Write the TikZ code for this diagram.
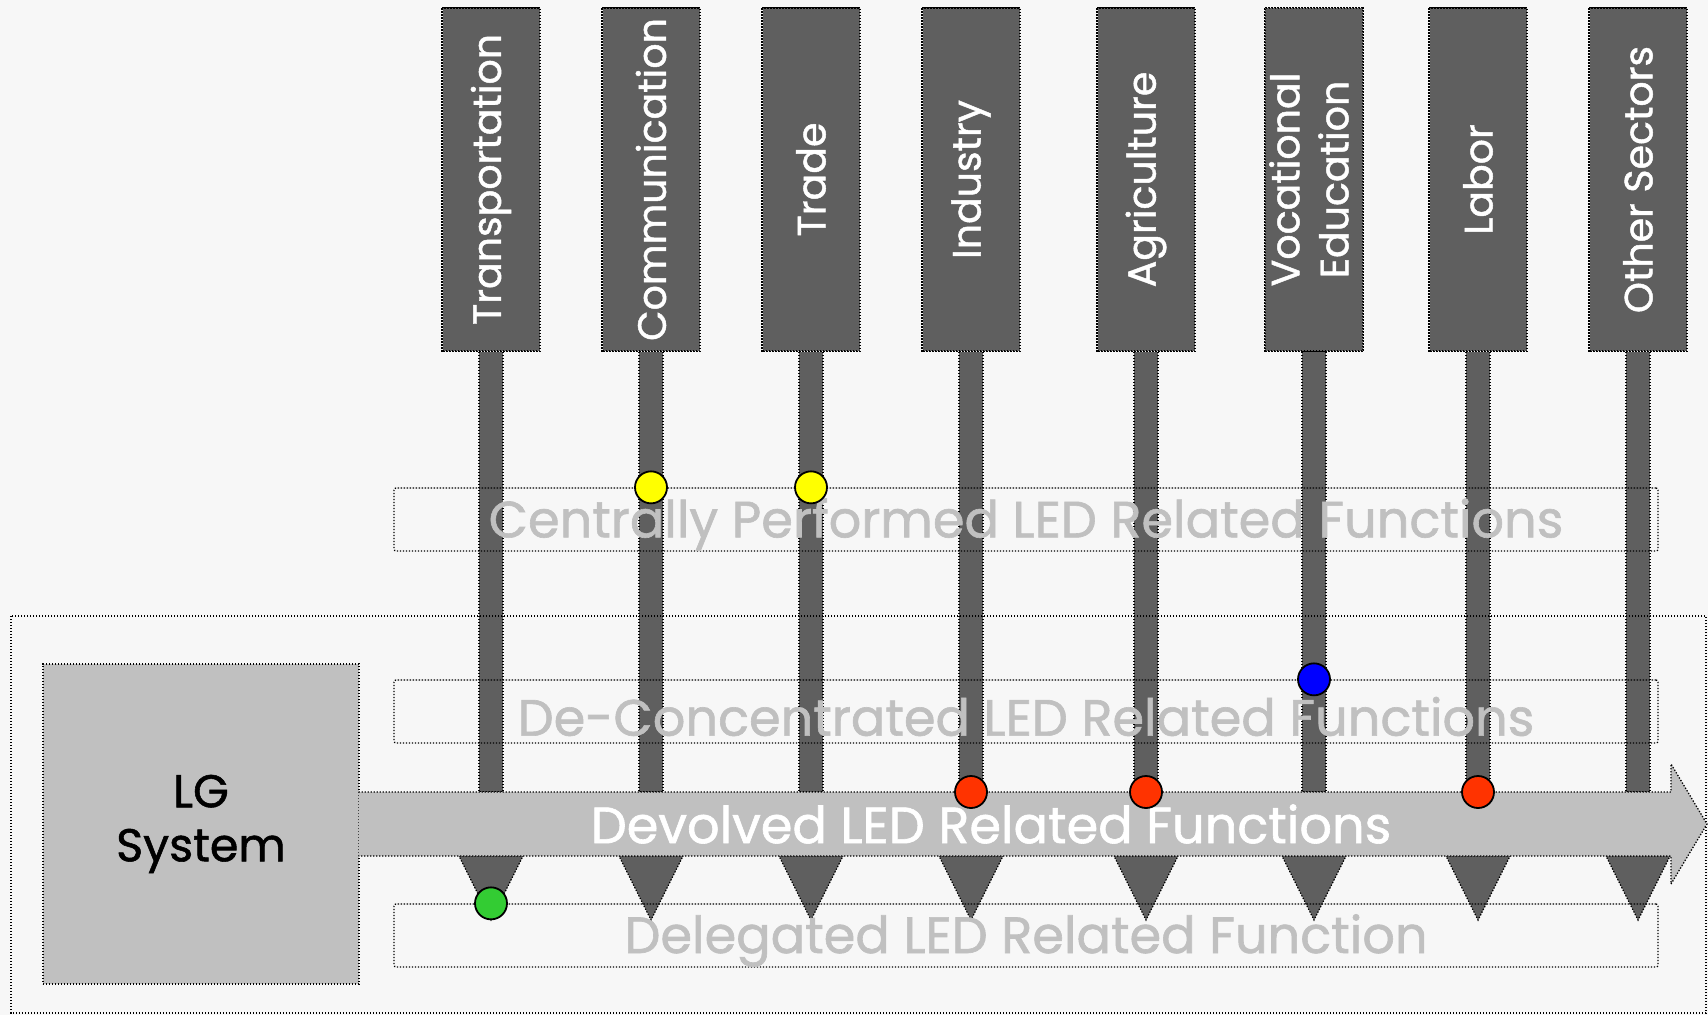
\documentclass[tikz,border=0pt]{standalone}
\usepackage{fontspec}
\setmainfont{Poppins}[FakeBold=1.2]
\usetikzlibrary{positioning, calc}

\definecolor{paper}{HTML}{F7F7F7}
\definecolor{sectorgray}{HTML}{5F5F5F}
\definecolor{bargray}{HTML}{C0C0C0}
\definecolor{dotred}{HTML}{FF3300}
\definecolor{dotyellow}{HTML}{FFFF00}
\definecolor{dotblue}{HTML}{0000FF}
\definecolor{dotgreen}{HTML}{33CC33}

\begin{document}
\begin{tikzpicture}[
    x=1pt, y=-1pt,
    dotline/.style={draw=black, line width=1.3pt, dash pattern=on 1.3pt off 1.7pt},
    sector box/.style={dotline, fill=sectorgray, minimum width=97pt, minimum height=343pt,
        inner sep=0pt, text=white, font=\fontsize{39.5}{49}\selectfont},
    stem/.style={dotline, fill=sectorgray},
    band/.style={dotline, rounded corners=2pt, minimum width=1264pt, minimum height=63pt,
        inner sep=0pt},
    band text/.style={text=bargray, font=\fontsize{51}{53}\selectfont, yshift=-5pt},
    lg box/.style={dotline, fill=bargray, minimum width=316pt, minimum height=320pt,
        align=center, inner sep=0pt, font=\fontsize{46}{54}\selectfont},
    dot/.style={circle, draw=black, line width=1.8pt, minimum size=32pt, inner sep=0pt}
]

    % === Canvas ===
    \fill[paper] (0,0) rectangle (1708,1015);
    \useasboundingbox (0,0) rectangle (1708,1015);

    % === Levels of the main arrow ===
    \coordinate (bartop) at (0,792);
    \coordinate (barbot) at (0,856);
    \coordinate (head) at (1671,824);
    \coordinate (tip) at (1707,824);

    % === Sectors ===
    \foreach \name/\xpos/\txt in {tr/491/Transportation, com/651/Communication, trd/811/Trade,
        ind/971/Industry, agr/1146/Agriculture,
        voc/1314/{\begin{tabular}{@{}c@{}}Vocational\\Education\end{tabular}},
        lab/1478/Labor, oth/1638/Other Sectors}
        \node[sector box] (\name) at (\xpos,179.5) {\rotatebox{90}{\txt}};

    % stems and wedges under the arrow
    \foreach \name in {tr, com, trd, ind, agr, voc, lab, oth} {
        \draw[stem] ($(\name.south)+(-12,0)$) rectangle ($(\name.south |- bartop)+(12,0)$);
        \draw[stem] ($(\name.south |- barbot)+(-32,0)$) -- ($(\name.south |- barbot)+(32,0)$)
            -- ($(\name.south |- barbot)+(0,64)$) -- cycle;
    }
    % boxes again on top of the stems
    \foreach \name in {tr, com, trd, ind, agr, voc, lab, oth}
        \draw[dotline] (\name.south west) rectangle (\name.north east);

    % === LG system frame ===
    \draw[dotline] (11,616) rectangle (1706,1013);

    % === LG box and devolved arrow ===
    \node[lg box] (lg) at (201,824) {LG\\System};
    \draw[dotline, fill=bargray] ($(lg.east |- bartop)+(-1,0)$) -- (head |- bartop)
        -- ($(head)+(0,-60)$) -- (tip) -- ($(head)+(0,60)$) -- (head |- barbot)
        -- ($(lg.east |- barbot)+(-1,0)$);
    \node[text=white, font=\fontsize{51}{53}\selectfont] (devolved) at (991,824)
        {Devolved LED Related Functions};

    % === Function levels ===
    \node[band] (central) at (1026,519.5) {};
    \node[band] (deconc) at (1026,711.5) {};
    \node[band] (deleg) at (1026,935.5) {};
    \node[band text] at (central) {Centrally Performed LED Related Functions};
    \node[band text] at (deconc) {De-Concentrated LED Related Functions};
    \node[band text] at (deleg) {Delegated LED Related Function};

    % === Markers ===
    \node[dot, fill=dotyellow] (mcom) at (com.south |- central.north) {};
    \node[dot, fill=dotyellow] (mtrd) at (trd.south |- central.north) {};
    \node[dot, fill=dotblue] (mvoc) at (voc.south |- deconc.north) {};
    \node[dot, fill=dotred] (mind) at (ind.south |- bartop) {};
    \node[dot, fill=dotred] (magr) at (agr.south |- bartop) {};
    \node[dot, fill=dotred] (mlab) at (lab.south |- bartop) {};
    \node[dot, fill=dotgreen] (mtr) at (tr.south |- deleg.north) {};

\end{tikzpicture}
\end{document}
